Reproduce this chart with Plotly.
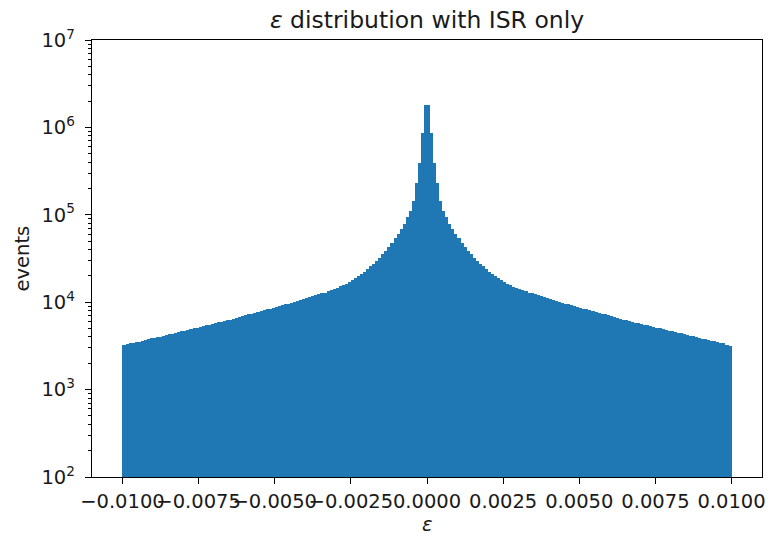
import numpy as np
import plotly.graph_objects as go

# Histogram settings (range and number of bins)
BIN_LO, BIN_HI, N_BINS = -0.01, 0.01, 200

# Counts for bins from -0.01 up to 0 (left half)
NEG = [3210, 3290, 3370, 3410, 3490, 3550, 3610, 3700, 3760, 3850,
       3900, 3990, 4050, 4150, 4220, 4320, 4380, 4490, 4550, 4660,
       4730, 4840, 4910, 5020, 5110, 5220, 5300, 5430, 5510, 5640,
       5730, 5860, 5950, 6080, 6180, 6330, 6480, 6660, 6780, 6970,
       7090, 7260, 7400, 7590, 7720, 7930, 8060, 8280, 8420, 8640,
       8800, 9050, 9210, 9460, 9650, 9920, 10080, 10380, 10580, 10850,
       11080, 11430, 11680, 12020, 12280, 12640, 12880, 13340, 13680, 14150,
       14580, 15150, 15680, 16250, 16980, 17850, 18750, 19980, 21050, 22450,
       23950, 25750, 27450, 29950, 32350, 35550, 38850, 43250, 47850, 53750,
       60200, 69300, 79300, 93400, 111800, 144800, 228500, 388000, 869000, 1795000]

# Counts for bins from 0 up to 0.01 (right half)
POS = [1800000, 871000, 389000, 229000, 144500, 112000, 93300, 79400, 69200, 60300,
       53700, 47900, 43200, 38900, 35500, 32400, 29900, 27500, 25700, 24000,
       22400, 21100, 19950, 18800, 17800, 17000, 16200, 15700, 15100, 14500,
       14100, 13700, 13300, 12900, 12600, 12300, 12000, 11700, 11400, 11100,
       10800, 10600, 10350, 10100, 9890, 9660, 9480, 9230, 9020, 8810,
       8610, 8430, 8260, 8070, 7910, 7730, 7570, 7380, 7240, 7100,
       6950, 6790, 6650, 6500, 6310, 6190, 6070, 5990, 5850, 5740,
       5620, 5520, 5420, 5310, 5210, 5120, 5010, 4920, 4790, 4740,
       4650, 4560, 4480, 4390, 4310, 4230, 4140, 4060, 3980, 3940,
       3840, 3770, 3690, 3590, 3560, 3480, 3420, 3390, 3250, 3190]

X_TICKS = [-0.01, -0.0075, -0.005, -0.0025, 0.0, 0.0025, 0.005, 0.0075, 0.01]
X_TICK_TEXT = ["\u22120.0100", "\u22120.0075", "\u22120.0050", "\u22120.0025", "0.0000",
               "0.0025", "0.0050", "0.0075", "0.0100"]
Y_TICKS = [1e2, 1e3, 1e4, 1e5, 1e6, 1e7]
Y_TICK_TEXT = ["10<sup>2</sup>", "10<sup>3</sup>", "10<sup>4</sup>",
               "10<sup>5</sup>", "10<sup>6</sup>", "10<sup>7</sup>"]
Y_MINOR = [m * 10 ** e for e in range(2, 7) for m in range(2, 10)]

TITLE = "<i>ε</i> distribution with ISR only"
X_LABEL = "<i>ε</i>"
Y_LABEL = "events"

counts = NEG + POS
edges = np.linspace(BIN_LO, BIN_HI, N_BINS + 1)
centers = 0.5 * (edges[:-1] + edges[1:])
width = edges[1] - edges[0]

FONT = "DejaVu Sans"
TXT = "#1a1a1a"
C0 = "#1f77b4"
TICK_SIZE = 19.5
TITLE_SIZE = 23.5

fig = go.Figure()
fig.add_trace(go.Bar(x=centers, y=counts, width=width,
                     marker=dict(color=C0, line=dict(width=0)),
                     hoverinfo="x+y"))
fig.add_trace(go.Scatter(x=[], y=[], yaxis="y2", showlegend=False))

axis_common = dict(showgrid=False, zeroline=False, showline=True, linecolor="#000000",
                   linewidth=1.3, ticks="outside", tickcolor="#000000", tickwidth=1.3,
                   automargin=False, mirror=True, tickangle=0,
                   tickfont=dict(family=FONT, size=TICK_SIZE, color=TXT))

fig.update_layout(
    width=769, height=536,
    margin=dict(l=92, r=7, t=40, b=59),
    paper_bgcolor="white", plot_bgcolor="white",
    bargap=0, showlegend=False,
    font=dict(family=FONT, color=TXT),
    title=dict(text=TITLE, x=0.5, xref="paper", xanchor="center",
               y=1 - 20 / 536, yref="container", yanchor="middle",
               font=dict(family=FONT, size=TITLE_SIZE, color=TXT)),
    xaxis=dict(range=[-0.011, 0.011], tickvals=X_TICKS, ticktext=X_TICK_TEXT,
               ticklen=6, ticklabelstandoff=0, **axis_common),
    yaxis=dict(type="log", range=[2, 7], tickvals=Y_TICKS, ticktext=Y_TICK_TEXT,
               ticklen=6, ticklabelstandoff=6, **axis_common),
    yaxis2=dict(type="log", range=[2, 7], overlaying="y", side="left", anchor="x",
                tickvals=Y_MINOR, showticklabels=False, ticks="outside", ticklen=3.5,
                tickwidth=1.1, tickcolor="#000000", showgrid=False, zeroline=False,
                showline=False),
    annotations=[
        dict(text=Y_LABEL, xref="paper", yref="paper", x=-70 / 670, y=0.5,
             textangle=-90, showarrow=False, xanchor="center", yanchor="middle",
             font=dict(family=FONT, size=TICK_SIZE, color=TXT)),
        dict(text=X_LABEL, xref="paper", yref="paper", x=0.5, y=-47 / 437,
             showarrow=False, xanchor="center", yanchor="middle",
             font=dict(family=FONT, size=TICK_SIZE, color=TXT)),
    ],
)

fig.write_html("out.html")
